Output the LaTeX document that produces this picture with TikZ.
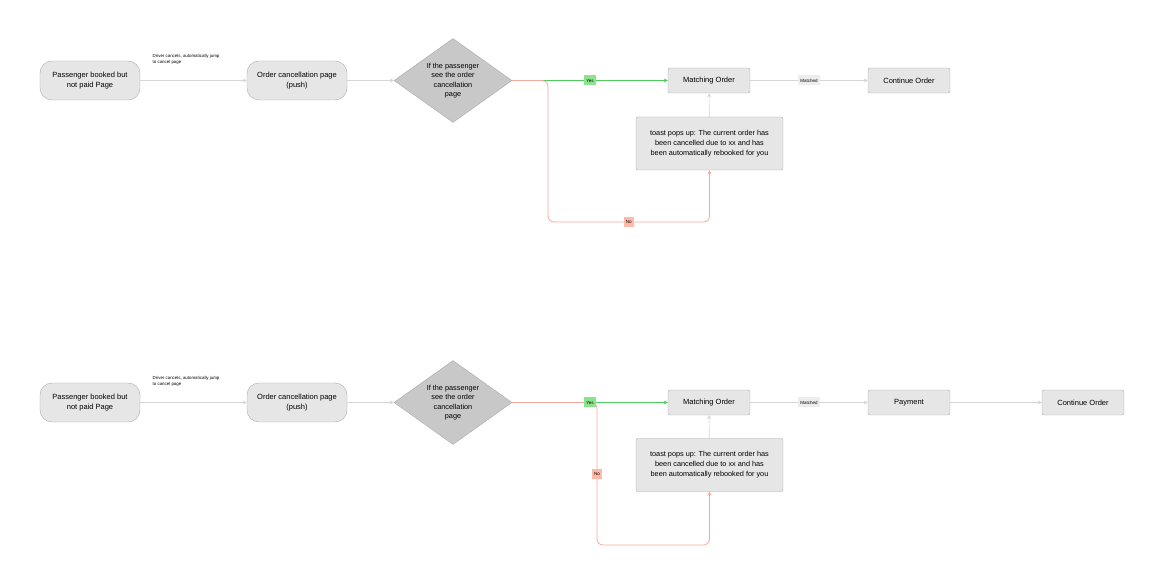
\documentclass[tikz,border=0pt]{standalone}
\usepackage{fontspec}
\setmainfont{Liberation Sans}
\usetikzlibrary{shapes.geometric,arrows.meta}
\definecolor{boxfill}{HTML}{E6E6E6}
\definecolor{boxline}{HTML}{ABABAB}
\definecolor{decfill}{HTML}{C9C8C9}
\definecolor{flowgray}{HTML}{D6D6D6}
\definecolor{flowgreen}{HTML}{4CCB5E}
\definecolor{yesfill}{HTML}{8DE38D}
\definecolor{flowred}{HTML}{F6A79E}
\definecolor{nofill}{HTML}{FFB9A9}
\definecolor{matchfill}{HTML}{EDEDED}
\tikzset{
	pagebox/.style = {draw=boxline, fill=boxfill, rounded corners=12pt, minimum width=100pt, minimum height=39pt, align=center, font=\fontsize{7.5}{9.5}\selectfont},
	orderbox/.style = {draw=boxline, fill=boxfill, rounded corners=2pt, minimum width=82pt, minimum height=25pt, align=center, font=\fontsize{7.5}{9.5}\selectfont},
	toastbox/.style = {draw=boxline, fill=boxfill, rounded corners=2pt, minimum width=147pt, minimum height=53pt, align=center, font=\fontsize{7.3}{10}\selectfont},
	decision/.style = {diamond, draw=boxline, fill=decfill, aspect=1.4, minimum width=118pt, minimum height=84pt, inner sep=0pt, align=center, font=\fontsize{7.3}{9.5}\selectfont},
	flow/.style = {draw=flowgray, line width=0.6pt, -{Stealth[length=4pt,width=4pt]}},
	yesflow/.style = {draw=flowgreen, line width=0.8pt, -{Stealth[length=4pt,width=4pt]}},
	noflow/.style = {draw=flowred, line width=0.8pt, rounded corners=6pt, -{Stealth[length=4pt,width=4pt]}},
	edgelbl/.style = {sharp corners, inner sep=2pt, minimum height=10pt, font=\fontsize{4.5}{5}\selectfont},
	yeslbl/.style = {edgelbl, fill=yesfill},
	nolbl/.style = {edgelbl, fill=nofill},
	matchlbl/.style = {edgelbl, fill=matchfill},
	note/.style = {anchor=north west, align=left, inner sep=0pt, font=\fontsize{4.4}{6.5}\selectfont}
}
\begin{document}
\begin{tikzpicture}[x=1pt, y=-1pt]
	\useasboundingbox (0,0) rectangle (1163,585);

	\node[pagebox] (P1) at (90,80.5) {Passenger booked but\\not paid Page};
	\node[pagebox] (O1) at (297,80.5) {Order cancellation page\\(push)};
	\node[decision] (D1) at (453,80.5) {If the passenger\\see the order\\cancellation\\page};
	\node[orderbox] (M1) at (709,80.5) {Matching Order};
	\node[toastbox] (T1) at (709.5,143.5) {toast pops up: The current order has\\been cancelled due to xx and has\\been automatically rebooked for you};
	\node[orderbox] (C1) at (909,80.5) {Continue Order};
	\node[note] (N1) at (152.5,54) {Driver cancels, automatically jump\\to cancel page};
	\coordinate (R1) at (548,222);

	\draw[flow] (P1) -- (O1);
	\draw[flow] (O1) -- (D1);
	\draw[yesflow] (D1.east) -- (M1);
	\draw[noflow] (D1.east) -| (R1) -| node[pos=0.25, nolbl] {No} (T1.south);
	\path (D1.east) -- node[pos=0.5, yeslbl] {Yes} (M1);
	\draw[flow] (T1) -- (M1);
	\draw[flow] (M1) -- node[matchlbl] {Matched} (C1);

	\node[pagebox] (P2) at (90,402.5) {Passenger booked but\\not paid Page};
	\node[pagebox] (O2) at (297,402.5) {Order cancellation page\\(push)};
	\node[decision] (D2) at (453,402.5) {If the passenger\\see the order\\cancellation\\page};
	\node[orderbox] (M2) at (709,402.5) {Matching Order};
	\node[toastbox] (T2) at (709.5,465) {toast pops up: The current order has\\been cancelled due to xx and has\\been automatically rebooked for you};
	\node[orderbox] (Y2) at (909,402.5) {Payment};
	\node[orderbox] (C2) at (1083,402.5) {Continue Order};
	\node[note] (N2) at (152.5,376) {Driver cancels, automatically jump\\to cancel page};
	\coordinate (R2) at (597,545);

	\draw[flow] (P2) -- (O2);
	\draw[flow] (O2) -- (D2);
	\draw[yesflow] (D2.east) -- (M2);
	\draw[noflow] (D2.east) -| node[pos=0.75, nolbl] {No} (R2) -| (T2.south);
	\path (D2.east) -- node[pos=0.5, yeslbl] {Yes} (M2);
	\draw[flow] (T2) -- (M2);
	\draw[flow] (M2) -- node[matchlbl] {Matched} (Y2);
	\draw[flow] (Y2) -- (C2);
\end{tikzpicture}
\end{document}
